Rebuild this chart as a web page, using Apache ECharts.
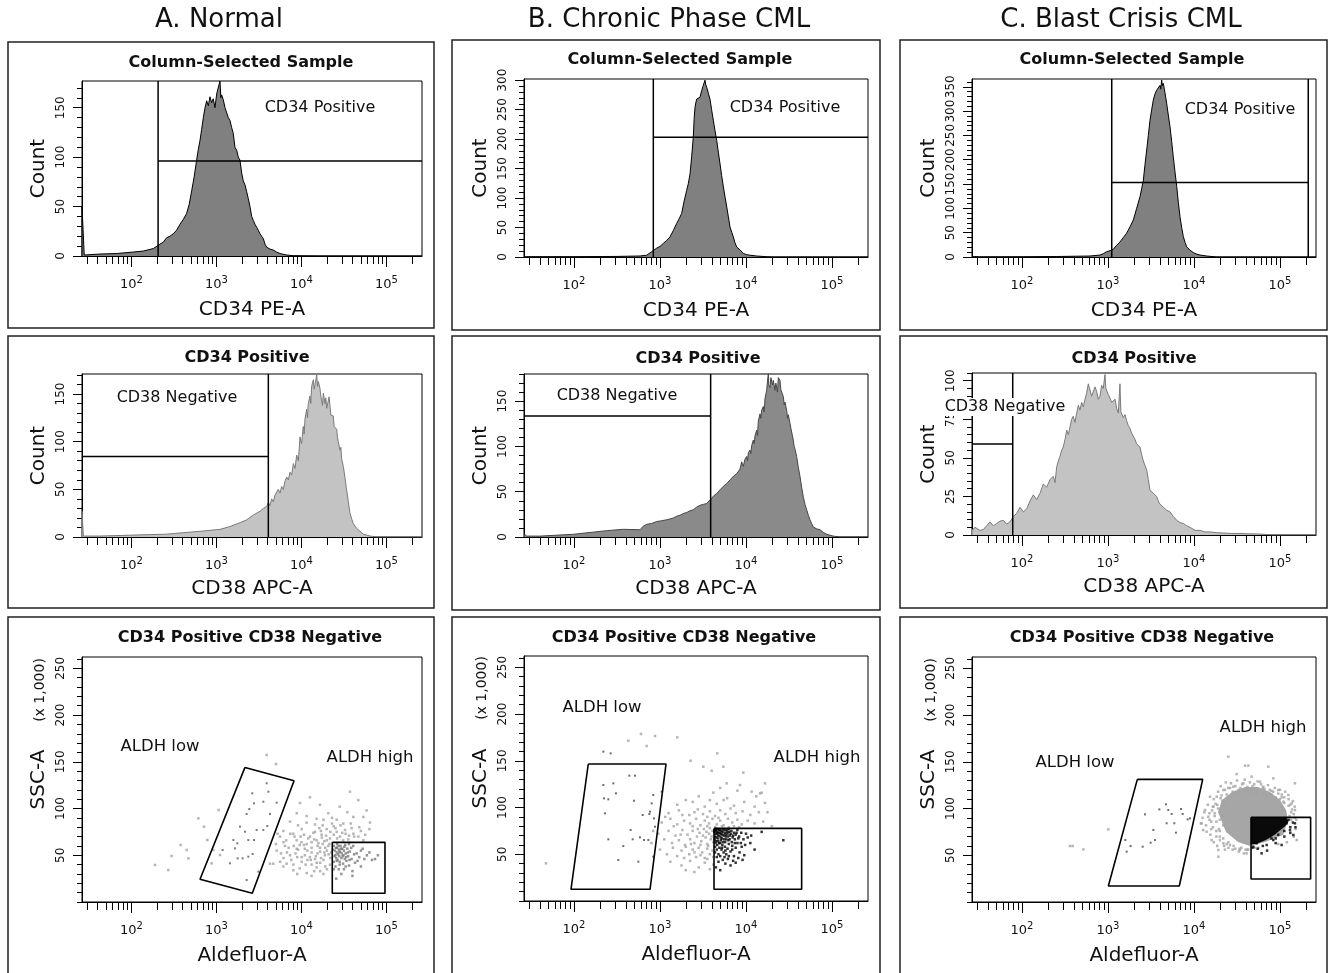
<!DOCTYPE html>
<html><head><meta charset="utf-8">
<script src="https://cdn.jsdelivr.net/npm/echarts@6/dist/echarts.min.js"></script>
<style>html,body{margin:0;padding:0;background:#fff}#c{width:1334px;height:973px}</style>
</head><body><div id="c"></div><script>
// ---------- DATA (x values are log10 of fluorescence, y are counts / SSC x1000) ----------
const columnTitles = ['A. Normal', 'B. Chronic Phase CML', 'C. Blast Crisis CML'];
const rowTitles = ['Column-Selected Sample', 'CD34 Positive', 'CD34 Positive CD38 Negative'];
const xAxisNames = ['CD34 PE-A', 'CD38 APC-A', 'Aldefluor-A'];
const xMajorTicks = [100, 1000, 10000, 100000];
const xMinorTicks = [30,40,50,60,70,80,90,200,300,400,500,600,700,800,900,2000,3000,4000,5000,6000,7000,8000,9000,20000,30000,40000,50000,60000,70000,80000,90000,200000];
const xRange = [26.2144, 262144];

const yMaxes = [177, 302, 366, 171, 180, 105, 262.144, 262.144, 262.144];
const yLabA1 = [0,50,100,150];
const yLabB1 = [0,50,100,150,200,250,300];
const yLabC1 = [0,50,100,150,200,250,300,350];
const yLabA2 = [0,50,100,150];
const yLabB2 = [0,50,100,150];
const yLabC2 = [0,25,50,75,100];
const yLabR3 = [50,100,150,200,250];

const histA1 = [[1.4186,0],[1.4187,50],[1.442,50],[1.445,1],[1.630,2],[1.827,2.5],[2.022,4],[2.140,5],[2.257,7.5],[2.336,12],[2.375,14],[2.415,18.5],[2.453,20],[2.492,22.5],[2.531,26],[2.571,32],[2.610,37],[2.649,43],[2.679,52],[2.709,66],[2.738,80],[2.767,97],[2.787,108],[2.807,117],[2.826,128],[2.846,140],[2.866,150],[2.885,157],[2.905,152],[2.924,161],[2.944,155],[2.963,159],[2.983,150],[3.003,164],[3.022,166],[3.042,177],[3.052,160],[3.061,163],[3.081,158],[3.101,150],[3.121,148],[3.140,140],[3.160,137],[3.179,130],[3.198,124],[3.218,110],[3.238,107],[3.257,100],[3.277,97],[3.297,84],[3.316,76],[3.336,72],[3.356,65],[3.375,58],[3.395,50],[3.415,40],[3.434,36],[3.454,32],[3.474,29],[3.493,26],[3.513,22.5],[3.532,20],[3.552,17.5],[3.571,12],[3.591,9],[3.630,7],[3.669,6],[3.708,4],[3.748,2.5],[3.826,1],[3.905,0.3],[4.2,0],[5.418,0]];
const histB1 = [[1.4186,0],[1.425,3],[1.440,3],[1.45,0.5],[2.0,0.5],[2.5,1],[2.767,1.7],[2.845,3],[2.903,9],[2.961,15],[3.000,18],[3.038,23],[3.077,28],[3.116,34],[3.155,45],[3.194,57],[3.223,65],[3.252,74],[3.281,95],[3.310,113],[3.330,125],[3.349,141],[3.368,170],[3.387,203],[3.397,235],[3.407,254],[3.417,262],[3.427,268],[3.446,265],[3.465,271],[3.484,282],[3.503,291],[3.513,288],[3.523,300],[3.533,292],[3.543,288],[3.562,278],[3.581,268],[3.600,250],[3.620,232],[3.640,214],[3.659,198],[3.678,178],[3.698,158],[3.717,138],[3.737,119],[3.756,102],[3.776,85],[3.795,68],[3.814,51],[3.834,42],[3.853,34],[3.872,24],[3.892,17],[3.911,14],[3.930,12],[3.950,9],[3.969,6],[4.008,4],[4.046,3],[4.124,1.7],[4.240,0.5],[4.317,0],[5.418,0]];
const histC1 = [[1.4186,0],[1.45,1],[1.5,0.3],[2.015,0.5],[2.403,1],[2.790,2],[2.907,4],[2.946,7],[2.985,11],[3.024,13],[3.062,16],[3.100,24],[3.139,31],[3.178,40],[3.217,49],[3.256,62],[3.294,76],[3.333,100],[3.372,124],[3.391,140],[3.411,158],[3.430,190],[3.450,220],[3.469,250],[3.488,281],[3.507,302],[3.527,323],[3.546,335],[3.566,343],[3.585,347],[3.605,353],[3.614,345],[3.624,364],[3.633,352],[3.643,357],[3.662,338],[3.682,316],[3.701,292],[3.721,268],[3.740,238],[3.759,206],[3.779,175],[3.799,145],[3.818,112],[3.837,83],[3.857,60],[3.876,42],[3.896,30],[3.915,21],[3.935,17],[3.954,14],[3.992,9],[4.031,6],[4.070,4],[4.148,2],[4.264,0],[5.418,0]];
const histA2 = [[1.4186,0],[1.4187,27],[1.430,27],[1.435,1],[1.630,1],[2.022,2],[2.218,2.5],[2.415,3],[2.610,4.5],[2.807,6],[2.924,7],[3.042,8],[3.160,11],[3.277,15],[3.356,18],[3.434,23],[3.513,27],[3.552,30],[3.591,32],[3.611,36],[3.630,33],[3.650,40],[3.669,37],[3.689,44],[3.709,42],[3.728,50],[3.748,46],[3.767,53],[3.787,50],[3.806,58],[3.826,63],[3.846,60],[3.866,68],[3.885,65],[3.905,77],[3.925,72],[3.944,86],[3.964,80],[3.983,105],[4.002,98],[4.022,116],[4.032,108],[4.042,124],[4.062,134],[4.071,125],[4.081,140],[4.101,148],[4.110,140],[4.120,158],[4.140,165],[4.150,155],[4.160,160],[4.180,170],[4.190,158],[4.199,163],[4.218,156],[4.228,148],[4.238,150],[4.248,138],[4.258,151],[4.277,140],[4.287,146],[4.297,135],[4.316,136],[4.326,147],[4.336,149],[4.346,128],[4.356,130],[4.375,127],[4.385,116],[4.395,118],[4.415,113],[4.425,104],[4.434,100],[4.454,91],[4.464,94],[4.473,82],[4.493,74],[4.503,76],[4.513,62],[4.532,49],[4.552,37],[4.571,25],[4.591,19],[4.611,14],[4.650,9],[4.689,6],[4.728,3],[4.807,1],[4.9,0],[5.38,0],[5.39,2],[5.40,0],[5.418,0]];
const histB2 = [[1.4186,0],[1.425,3],[1.440,3],[1.45,1],[1.605,1],[1.992,3],[2.186,5],[2.380,7],[2.573,8.5],[2.767,8],[2.806,12],[2.845,14],[2.903,15],[2.961,17],[3.020,18],[3.078,19],[3.117,20],[3.155,21],[3.194,23],[3.232,24],[3.271,26],[3.310,27],[3.349,29],[3.387,30],[3.426,33],[3.465,35],[3.504,36],[3.543,37],[3.572,40],[3.601,43],[3.630,46],[3.659,48],[3.697,52],[3.736,56],[3.775,59],[3.814,63],[3.853,67],[3.892,70],[3.930,75],[3.950,83],[3.969,78],[3.988,86],[4.008,89],[4.018,84],[4.027,93],[4.046,96],[4.056,92],[4.066,101],[4.085,107],[4.095,103],[4.105,112],[4.124,118],[4.134,112],[4.143,128],[4.163,136],[4.172,131],[4.182,140],[4.201,144],[4.211,138],[4.221,153],[4.240,162],[4.250,172],[4.260,182],[4.265,168],[4.270,170],[4.279,165],[4.289,176],[4.298,175],[4.308,168],[4.317,173],[4.337,162],[4.347,170],[4.357,169],[4.366,160],[4.376,176],[4.395,173],[4.405,163],[4.415,160],[4.434,155],[4.444,146],[4.453,149],[4.473,140],[4.483,131],[4.492,135],[4.512,133],[4.522,120],[4.531,118],[4.550,107],[4.560,100],[4.570,97],[4.589,89],[4.608,77],[4.628,67],[4.647,55],[4.667,44],[4.686,36],[4.706,30],[4.725,24],[4.744,19],[4.763,15],[4.783,11],[4.822,9],[4.861,8],[4.900,5],[4.939,3],[5.016,1],[5.093,0],[5.418,0]];
const histC2 = [[1.4186,0],[1.4187,3],[1.434,3],[1.453,5],[1.473,4],[1.511,3],[1.550,3.5],[1.589,6],[1.628,8.5],[1.667,6],[1.706,7.5],[1.745,9],[1.783,9.5],[1.822,7],[1.860,8.5],[1.899,12],[1.938,14],[1.977,18],[2.016,15],[2.055,17],[2.093,22],[2.131,26],[2.170,23],[2.209,27],[2.248,33],[2.287,31],[2.326,36],[2.364,38],[2.384,34],[2.403,44],[2.422,48],[2.442,51],[2.461,55],[2.480,57],[2.500,62],[2.520,68],[2.539,65],[2.558,70],[2.577,75],[2.596,77],[2.616,73],[2.636,79],[2.655,84],[2.674,81],[2.694,86],[2.713,83],[2.733,88],[2.752,92],[2.771,98],[2.790,99],[2.810,90],[2.829,90],[2.849,96],[2.868,93],[2.887,88],[2.907,90],[2.926,97],[2.945,95],[2.965,104],[2.975,95],[2.985,95],[3.004,91],[3.023,90],[3.043,86],[3.062,85],[3.082,88],[3.101,82],[3.120,79],[3.139,98],[3.149,80],[3.159,81],[3.178,76],[3.198,78],[3.217,74],[3.236,71],[3.256,69],[3.275,66],[3.294,66],[3.314,62],[3.333,59],[3.353,60],[3.372,57],[3.391,52],[3.411,48],[3.430,45],[3.450,42],[3.469,36],[3.488,29],[3.508,30],[3.527,27],[3.546,26],[3.566,25],[3.585,22],[3.604,20],[3.643,18],[3.682,16],[3.721,15],[3.760,12],[3.799,9.5],[3.838,8],[3.876,7.5],[3.915,6],[3.954,5],[4.012,3],[4.070,3],[4.128,2],[4.187,2],[4.264,1.5],[4.341,1.3],[4.438,1],[4.535,1],[4.632,0.8],[4.729,0.7],[4.826,0.4],[4.922,0],[5.418,0]];

// histogram gates: [x from, x to, count level]
const gateA1 = [206, 262144, 96];
const gateB1 = [836, 262144, 203];
const gateC1 = [1105, 213000, 153];
const gateA2 = [26.2144, 4080, 84.5];
const gateB2 = [26.2144, 3880, 133.5];
const gateC2 = [26.2144, 78, 59];

// scatter gates, [log10 x, SSC]
const lowGateA3 = [[3.336,144],[3.913,129.8],[3.422,9.3],[2.807,24.3],[3.336,144]];
const highGateA3 = [[4.363,63.8],[4.983,63.8],[4.983,9.3],[4.363,9.3],[4.363,63.8]];
const lowGateB3 = [[2.166,146.6],[3.070,146.6],[2.884,12.5],[1.965,12.5],[2.166,146.6]];
const highGateB3 = [[3.628,77.7],[4.647,77.7],[4.647,12.5],[3.628,12.5],[3.628,77.7]];
const lowGateC3 = [[3.341,131.2],[4.101,131.2],[3.829,17.1],[3.004,17.1],[3.341,131.2]];
const highGateC3 = [[4.663,90.6],[5.356,90.6],[5.356,24.6],[4.663,24.6],[4.663,90.6]];

const dotsA3Gray = [[2.277,39.6],[2.434,34.2],[2.473,49.2],[2.579,61],[2.650,55.6],[2.787,89.5],[2.854,80.6],[2.893,66.3],[2.670,46.7],[2.963,55.6],[3.026,98.4],[2.944,41.4],[3.042,50.3],[3.591,157.3],[3.701,147.6],
[3.983,106],[4.571,118],[4.669,109],[4.767,98],[4.218,104],[4.100,112],[4.450,102],
[3.866,86],[4.062,92],[4.179,89],[4.316,95],[4.415,88],[4.493,84],[4.611,91],[4.728,91],[4.807,85],[3.945,95],[4.250,82],[4.540,96],[4.380,81],
[3.748,70],[3.787,76],[3.905,73],[4.003,78],[4.101,70],[4.160,75],[4.179,66],[4.238,72],[4.297,78],[4.336,68],[4.415,75],[4.454,70],[4.513,77],[4.552,67],[4.611,73],[4.669,70],[4.728,66],[3.944,66],[4.030,72],[4.210,79],[4.380,72],[4.490,66],[4.590,79],[4.700,76],[4.270,65],[4.120,64],
[3.709,55],[3.807,60],[3.866,50],[3.944,57],[4.003,48],[4.062,62],[4.120,53],[4.160,46],[4.218,58],[4.277,50],[4.316,60],[4.340,47],[3.930,52],[4.040,57],[4.100,48],[4.190,52],[4.250,62],[4.300,55],[3.790,47],[3.850,58],[4.070,45],[4.230,47],[4.350,53],[3.980,61],
[3.669,41],[3.787,38],[3.905,34],[4.003,43],[4.062,31],[4.179,37],[4.258,30],[4.336,40],[3.826,41],[3.950,30],[4.120,40],[4.220,42],[4.300,35],[3.630,41],[3.905,40],[4.150,33],
[3.70,62],[3.76,52],[3.82,66],[3.88,45],[3.92,70],[3.96,56],[4.00,64],[4.04,50],[4.08,68],[4.12,58],[4.14,74],[4.17,49],[4.20,63],[4.22,54],[4.24,69],[4.26,45],[4.28,58],[4.30,66],[4.32,51],[4.34,75],[4.33,62],[4.29,71],[4.27,53],[4.23,76],[4.19,60],[4.15,67],[4.11,45],[4.07,55],[4.03,61],[3.99,70],[3.95,48],[3.91,60],[3.87,73],[3.83,53],[3.79,64],[3.75,43],[3.72,73],[4.36,84],[4.40,79],[4.46,82],[4.52,73],[4.58,84],[4.62,70],[4.68,80],[4.75,72],[4.80,78],[4.42,68],[4.48,74],[4.56,71],[4.36,90],[4.26,88],[4.16,83],[4.06,85],[3.96,82],[4.05,40],[4.18,42],[4.28,38],[3.98,36],[4.12,28],[4.22,33]];
const dotsA3Low = [[3.073,55.6],[3.159,41.4],[3.199,66.3],[3.246,62.8],[3.250,46.7],[3.277,80.6],[3.336,75.2],[3.375,48.5],[3.426,51.4],[3.356,94.2],[3.387,99.5],[3.422,116.3],[3.442,105.6],[3.552,107.3],[3.591,127],[3.611,118],[3.709,106.3],[3.473,77],[3.552,77],[3.375,66.3],[3.442,66.3],[3.356,23.5],[3.493,32.5],[3.218,57.4],[3.308,46.7],[3.599,81.3],[3.630,94.2]];
const dotsA3High = [[4.380,60],[4.395,55],[4.400,50],[4.410,47],[4.415,53],[4.420,58],[4.425,45],[4.430,51],[4.440,56],[4.445,49],[4.450,43],[4.455,54],[4.460,60],[4.470,47],[4.475,52],[4.480,57],[4.490,41],[4.495,50],[4.500,55],[4.510,46],[4.515,61],[4.520,52],[4.530,44],[4.540,57],[4.550,49],[4.560,39],[4.570,54],[4.590,46],[4.610,60],[4.630,42],[4.650,52],[4.680,48],[4.720,57],[4.770,50],[4.830,45],[4.866,46],[4.400,38],[4.440,35],[4.380,43],[4.500,35],[4.600,33],[4.470,30],[4.560,62],[4.700,38],[4.420,62],
[4.37,56],[4.39,49],[4.405,58],[4.415,44],[4.435,60],[4.445,53],[4.465,57],[4.485,49],[4.505,59],[4.525,48],[4.545,53],[4.565,45],[4.585,58],[4.62,51],[4.66,44],[4.70,55],[4.74,46],[4.80,53],[4.90,50],[4.45,40],[4.52,38],[4.38,35],[4.60,28],[4.41,25]];

const dotsB3Gray = [[1.674,40.3],[2.631,171.5],[2.779,178.7],[2.942,176.5],[2.845,165.8],[3.201,175.1],[3.356,150.1],[3.666,158],[3.969,137.3],[4.221,125.9],[4.182,115.9],[3.504,143.7],[3.601,139.4],[3.736,143.7],[3.775,125.9],[3.930,124.1],[4.066,117],[4.163,115.2],
[3.45,112],[3.62,116],[3.78,110],[3.90,118],[3.70,121],[3.30,108],
[3.20,103],[3.38,106],[3.52,101],[3.66,104],[3.74,108],[3.86,102],[3.98,106],[4.10,101],[3.58,108],
[3.10,94],[3.22,97],[3.34,92],[3.44,98],[3.50,93],[3.58,96],[3.64,91],[3.70,97],[3.76,93],[3.82,99],[3.88,94],[3.96,96],[4.05,92],[4.15,95],[3.40,95],[3.55,90],
[3.02,84],[3.12,88],[3.20,82],[3.28,86],[3.35,83],[3.42,88],[3.47,81],[3.52,86],[3.57,83],[3.61,88],[3.66,82],[3.70,86],[3.74,81],[3.79,88],[3.84,84],[3.90,87],[3.95,82],[4.02,86],[4.10,83],[3.38,80],[3.55,80],[3.68,89],[3.86,80],[3.64,79],[3.72,80],[3.80,79],[3.92,79],
[2.98,72],[3.05,66],[3.10,75],[3.14,62],[3.18,70],[3.22,65],[3.26,76],[3.29,60],[3.32,71],[3.35,66],[3.38,75],[3.40,62],[3.43,69],[3.46,73],[3.48,64],[3.51,77],[3.53,68],[3.55,61],[3.57,72],[3.59,66],[3.61,75],[3.62,63],[3.44,77],[3.36,61],[3.24,71],[3.50,70],[3.58,78],[3.47,60],[3.60,69],[3.54,74],
[3.00,55],[3.08,50],[3.15,57],[3.20,48],[3.25,54],[3.30,58],[3.34,50],[3.38,55],[3.42,47],[3.45,57],[3.49,52],[3.52,46],[3.55,56],[3.58,50],[3.61,54],[3.62,47],[3.40,52],[3.47,49],[3.56,59],[3.28,46],
[3.12,42],[3.25,38],[3.35,43],[3.45,36],[3.52,41],[3.58,34],[3.62,39],[3.40,31],[3.30,33],[3.55,45],
[2.90,62],[2.92,75],[4.20,85],[4.25,95],[4.30,80],[4.22,105],[4.12,112],[3.16,80],[3.06,90],[3.26,92]];
const dotsB3Low = [[2.341,124.1],[2.457,125.9],[2.488,115.2],[2.643,134.1],[2.709,134.1],[2.399,108.8],[2.698,107.3],[2.798,92],[2.876,93.1],[2.903,104.5],[2.922,113.4],[3.019,117],[2.399,66],[2.659,76],[2.767,68.1],[2.814,65.3],[2.573,58.8],[2.748,42.1],[2.515,43.9],[2.922,47.4],[2.942,79.5],[2.682,66],[2.349,109.8],[2.360,93.8],[2.884,95.6],[2.930,88.4],[2.864,65.3],[2.341,159.8],[2.426,158]];
const dotsB3High = [[3.635,76],[3.645,72],[3.655,77],[3.665,74],[3.675,70],[3.685,76],[3.695,73],[3.705,68],[3.715,75],[3.725,71],[3.735,77],[3.745,66],[3.755,73],[3.765,69],[3.775,76],[3.785,72],[3.795,65],[3.805,74],[3.815,70],[3.830,75],[3.845,68],[3.860,73],[3.880,71],[3.900,76],[3.920,69],[3.945,73],[3.970,66],[4.000,72],
[3.635,66],[3.645,62],[3.655,68],[3.665,60],[3.675,64],[3.690,57],[3.700,62],[3.715,55],[3.725,60],[3.740,52],[3.755,58],[3.770,50],[3.785,56],[3.800,61],[3.820,53],[3.840,59],[3.860,48],[3.880,57],[3.900,62],[3.925,52],[3.950,58],[3.980,49],
[3.640,52],[3.660,47],[3.680,42],[3.700,48],[3.730,44],[3.760,40],[3.790,45],[3.820,38],[3.850,43],[3.880,41],[3.910,46],[3.650,36],[3.700,33],[3.750,47],
[4.182,74],[4.434,65],[4.050,62],[4.100,55],[4.020,68],[3.960,44],
[3.632,74],[3.640,69],[3.648,75],[3.652,64],[3.660,72],[3.668,77],[3.672,67],[3.680,73],[3.688,62],[3.692,70],[3.700,76],[3.708,65],[3.712,72],[3.720,67],[3.728,74],[3.732,63],[3.740,70],[3.750,76],[3.758,63],[3.762,71],[3.770,66],[3.780,74],[3.790,69],[3.800,77],[3.810,66],[3.822,72],[3.835,63],[3.850,70],[3.870,66],[3.890,73],[3.640,58],[3.660,55],[3.680,50],[3.720,57],[3.760,54],[3.800,48],[3.840,55],[3.870,62],[3.910,67],[3.940,62],[3.990,60],[4.060,70]];

const dotsC3Gray = [[2.558,59.9],[2.589,59.9],[2.713,56.3],[3.004,77.7],
[4.399,155.5],[4.593,145.9],[4.632,145.9],[4.864,144.8],[4.496,136.9],[4.670,134.1],[4.767,128.7],[4.922,132.3],[5.174,127],[4.341,119.8],[4.457,123.4],[4.980,119.8],[5.097,114.5],[4.186,112.7],[4.128,98.4],[4.089,84.2],[4.147,75.2],[4.205,66.3],[4.283,55.6],[4.418,61],[4.535,55.6],[4.612,52.1],[4.341,62.8],[5.174,98.4],[5.194,66.3],[4.283,48.5],[4.166,91.3],[4.225,102],[4.264,112.7],[4.515,117],[4.806,123.4],[5.039,107.3],[5.136,105.6],[4.574,127],[4.108,77],[4.302,66.3],
[4.10,90],[4.14,82],[4.16,104],[4.19,72],[4.21,98],[4.23,110],[4.26,86],[4.28,118],[4.29,78],[4.31,124],[4.33,92],[4.34,68],[4.37,128],[4.40,64],[4.43,127],[4.46,60],[4.50,130],[4.53,57],[4.56,126],[4.59,131],[4.62,56],[4.65,128],[4.68,124],[4.71,58],[4.74,129],[4.78,126],[4.82,121],[4.86,125],[4.90,119],[4.94,122],[4.98,116],[5.02,112],[5.06,118],[5.10,110],[5.12,104],[5.14,99],[5.16,94],[5.17,102],[5.19,88],[5.13,88],[5.11,92],[4.24,95],[4.27,104],[4.30,88],[4.32,114],[4.36,120],[4.40,122],[4.48,124],[4.54,122],[4.62,123],[4.70,126],[4.80,122],[4.92,118],[5.00,120],[5.05,112],[4.30,70],[4.38,62],[4.45,56],[4.52,54],[4.60,56],[4.20,78],[4.18,88],[4.22,102],[4.12,96],[4.08,84],[4.26,76],[4.35,104],[4.34,82],
[4.22,80],[4.24,92],[4.26,70],[4.28,100],[4.30,76],[4.33,108],[4.35,60],[4.38,115],[4.40,58],[4.45,118],[4.48,57],[4.52,120],[4.55,58],[4.60,119],[4.63,56],[4.66,118],[4.72,117],[4.75,58],[4.80,116],[4.85,113],[4.90,115],[4.95,112],[5.00,110],[5.05,106],[5.10,103],[5.13,96],[5.17,90],[5.18,78],[5.16,70],[5.08,64],[4.98,62],[4.20,86],[4.18,95],[4.25,105],[4.31,111],[4.42,122],[4.70,122],[4.88,120],[5.02,115],[5.15,108],[4.23,64],[4.27,60],[4.36,56],[4.58,52]];
const dotsC3Low = [[3.430,93.8],[3.527,77],[3.546,66.3],[3.597,99.1],[3.674,104.5],[3.740,94.2],[3.771,84.2],[3.849,99.5],[3.868,94.2],[3.926,88.4],[3.953,89.5],[3.403,59.2],[3.263,59.9],[3.201,66.3],[3.496,63.5],[3.682,84.2],[3.790,74.2],[3.217,53.9],[3.701,98.4]];
const coreC3Gray = [[4.279,96.3],[4.325,109.1],[4.442,117.7],[4.593,123],[4.744,123],[4.884,117.7],[5.000,109.1],[5.070,98.4],[5.093,87.7],[5.035,71.7],[4.826,64.2],[4.651,59.9],[4.512,64.2],[4.372,74.9]];
const coreC3Black = [[4.663,90.6],[5.070,90.6],[5.100,86],[5.060,81],[4.990,76],[4.940,72],[4.830,66],[4.740,62.5],[4.663,61.5]];
const dotsC3High = [[4.728,62.8],[4.786,52.1],[5.077,84.2],[5.174,84.2],[5.155,71.7],[4.922,66.3],[5.116,77],[4.845,61],[4.690,59.2],[5.019,61],[4.70,63.5],[4.95,68],[5.05,70],[5.12,80],
[5.10,88],[5.15,85],[5.18,80],[5.05,76],[4.98,72],[4.90,68],[4.80,60],[4.74,57],[4.68,58],[4.85,55],[5.12,74],[4.95,63]];

// ---------- LAYOUT ----------
const FONT = 'DejaVu Sans';
const INK = '#111';
const colLeft = [82, 524, 972], colWidth = [340, 344, 344];
const rowTop = [[81,79,79],[374,374,373],[657,656,657]];
const rowH = [[175,178,178],[163,163,162],[245,245,245]];
const yLabels = [yLabA1,yLabB1,yLabC1,yLabA2,yLabB2,yLabC2,yLabR3,yLabR3,yLabR3];
const yMinorStep = [10,10,10,10,10,5,10,10,10];

const pow10 = e => Math.pow(10, e);
function range(step, max){ const r=[]; for(let v=0; v<=max+1e-9; v+=step) r.push(+v.toFixed(3)); return r; }

const grids=[], xAxes=[], yAxes=[], series=[];
for (let r=0;r<3;r++) for (let c=0;c<3;c++){
  const i=r*3+c;
  grids[i] = {left:colLeft[c], top:rowTop[r][c], width:colWidth[c], height:rowH[r][c], show:true, borderColor:'#000', borderWidth:1, backgroundColor:'transparent', outerBoundsMode:'none', containLabel:false};
  grids[9+i] = {left:colLeft[c], top:rowTop[r][c], width:colWidth[c], height:rowH[r][c], show:false, outerBoundsMode:'none', containLabel:false};
  xAxes[i] = {type:'log', logBase:10, gridIndex:i, min:xRange[0], max:xRange[1],
    axisLine:{show:true, onZero:false, lineStyle:{color:'#000', width:1}},
    axisTick:{show:true, customValues:xMinorTicks.concat(xMajorTicks), length:8, lineStyle:{color:'#000', width:1}},
    axisLabel:{show:true, customValues:xMajorTicks, margin:19, color:INK, fontFamily:FONT,
      formatter: v => '{n|10}{e|' + Math.round(Math.log10(v)) + '}',
      rich:{n:{fontSize:13, fontFamily:FONT, color:INK}, e:{fontSize:10, fontFamily:FONT, color:INK, padding:[0,0,9,0]}}},
    splitLine:{show:false},
    name:xAxisNames[r], nameLocation:'middle', nameGap: r===1 ? 42 : 44, nameTextStyle:{fontSize:20, fontFamily:FONT, color:INK}};
  xAxes[9+i] = {type:'log', logBase:10, gridIndex:9+i, min:xRange[0], max:xRange[1],
    axisLine:{show:false}, axisTick:{show:true, customValues:xMajorTicks, length:11, lineStyle:{color:'#000', width:1}},
    axisLabel:{show:false}, splitLine:{show:false}};
  const yMinor = range(yMinorStep[i], yMaxes[i]);
  yAxes[i] = {type:'value', gridIndex:i, min:0, max:yMaxes[i],
    axisLine:{show:true, onZero:false, lineStyle:{color:'#000', width:1}},
    axisTick:{show:true, customValues:yMinor, length:5, lineStyle:{color:'#000', width:1}},
    axisLabel:{show:true, customValues:yLabels[i], rotate:90, margin:15, fontSize:12, fontFamily:FONT, color:INK},
    splitLine:{show:false},
    name: r<2 ? 'Count' : 'SSC-A', nameLocation:'middle', nameGap:33, nameTextStyle:{fontSize:20, fontFamily:FONT, color:INK}};
  yAxes[9+i] = {type:'value', gridIndex:9+i, min:0, max:yMaxes[i],
    axisLine:{show:false}, axisTick:{show:true, customValues:yLabels[i], length:9, lineStyle:{color:'#000', width:1}},
    axisLabel:{show:false}, splitLine:{show:false}};
}

function hist(i, pairs, line, fill){
  series.push({type:'line', xAxisIndex:i, yAxisIndex:i, data:pairs.map(p=>[pow10(p[0]), p[1]]), symbol:'none', showSymbol:false,
    lineStyle:{color:line, width:1}, areaStyle:{color:fill, opacity:1}, z:2, silent:true, animation:false});
}
function seg(i, pts, w){
  series.push({type:'line', xAxisIndex:i, yAxisIndex:i, data:pts, symbol:'none', showSymbol:false,
    lineStyle:{color:'#000', width:w||1.5}, z:5, silent:true, animation:false});
}
function histGate(i, g, leftSide){
  const top = yMaxes[i];
  if (leftSide){ seg(i, [[g[1],0],[g[1],top]]); seg(i, [[g[0],g[2]],[g[1],g[2]]]); }
  else { seg(i, [[g[0],0],[g[0],top]]); seg(i, [[g[0],g[2]],[g[1],g[2]]]); if (g[1] < xRange[1]) seg(i, [[g[1],0],[g[1],top]]); }
}
function polyLine(i, pts){ seg(i, pts.map(p=>[pow10(p[0]), p[1]]), 1.6); }
function dots(i, pts, color, size){
  series.push({type:'scatter', xAxisIndex:i, yAxisIndex:i, data:pts.map(p=>[pow10(p[0]), p[1]]), symbol:'rect', symbolSize:size||2,
    itemStyle:{color:color}, z:3, silent:true, animation:false});
}
function blob(i, poly, color){
  series.push({type:'custom', xAxisIndex:i, yAxisIndex:i, data:[[pow10(poly[0][0]), poly[0][1]]], z:3, silent:true, animation:false,
    renderItem:(params, api) => ({type:'polygon', shape:{points: poly.map(p=>api.coord([pow10(p[0]), p[1]]))}, style:{fill:color}})});
}

const DARK_FILL='#808080', LIGHT_FILL='#c3c3c3';
hist(0, histA1, '#000', DARK_FILL); histGate(0, gateA1);
hist(1, histB1, '#000', DARK_FILL); histGate(1, gateB1);
hist(2, histC1, '#000', DARK_FILL); histGate(2, gateC1);
hist(3, histA2, '#7a7a7a', LIGHT_FILL); histGate(3, gateA2, true);
hist(4, histB2, '#474747', '#8a8a8a'); histGate(4, gateB2, true);
hist(5, histC2, '#7a7a7a', LIGHT_FILL); histGate(5, gateC2, true);

dots(6, dotsA3Gray, '#a3a3a3', 2.5); dots(6, dotsA3Low, '#5a5a5a', 2); dots(6, dotsA3High, '#7a7a7a', 2.5);
polyLine(6, lowGateA3); polyLine(6, highGateA3);
dots(7, dotsB3Gray, '#a3a3a3', 2.5); dots(7, dotsB3Low, '#4a4a4a', 2); dots(7, dotsB3High, '#000', 2.5);
polyLine(7, lowGateB3); polyLine(7, highGateB3);
dots(8, dotsC3Gray, '#a3a3a3', 2.5); blob(8, coreC3Gray, '#a6a6a6'); dots(8, dotsC3Low, '#4a4a4a', 2);
blob(8, coreC3Black, '#0a0a0a'); dots(8, dotsC3High, '#000', 2.5);
polyLine(8, lowGateC3); polyLine(8, highGateC3);

// ---------- TEXT & FRAMES ----------
const G = [];
function txt(x, y, s, size, weight, extra){
  G.push(Object.assign({type:'text', x:x, y:y, z:100, silent:true,
    style:{text:s, fill:INK, font: (weight||'normal') + ' ' + size + 'px "' + FONT + '"', textAlign:'center', textVerticalAlign:'middle'}}, extra||{}));
}
function box(x, y, w, h){ G.push({type:'rect', z:100, silent:true, shape:{x:x, y:y, width:w, height:h}, style:{fill:'none', stroke:'#222', lineWidth:1.5}}); }
const boxX = [[8,426],[452,428],[900,427]];
const boxY = [[[42,286],[40,290],[40,290]], [[336,272],[336,274],[336,272]], [[617,380],[617,380],[617,380]]];
for (let r=0;r<3;r++) for (let c=0;c<3;c++) box(boxX[c][0], boxY[r][c][0], boxX[c][1], boxY[r][c][1]);

txt(219, 20, columnTitles[0], 26); txt(669, 20, columnTitles[1], 26); txt(1121, 20, columnTitles[2], 26);
const titlePos = [[[241,63],[680,60],[1132,60]], [[247,358],[698,359],[1134,359]], [[250,638],[684,638],[1142,638]]];
for (let r=0;r<3;r++) for (let c=0;c<3;c++) txt(titlePos[r][c][0], titlePos[r][c][1], rowTitles[r], 16, 'bold');
txt(320,108,'CD34 Positive',16); txt(785,108,'CD34 Positive',16); txt(1240,110,'CD34 Positive',16);
txt(177,398,'CD38 Negative',16); txt(617,396,'CD38 Negative',16);
G.push({type:'text', x:1005, y:407, z:100, silent:true, style:{text:'CD38 Negative', fill:INK, font:'normal 16px "DejaVu Sans"', textAlign:'center', textVerticalAlign:'middle', backgroundColor:'#fff', padding:[1,0,1,0]}});
txt(160,747,'ALDH low',16.5); txt(370,758,'ALDH high',16.5);
txt(602,708,'ALDH low',16.5); txt(817,758,'ALDH high',16.5);
txt(1075,763,'ALDH low',16.5); txt(1263,728,'ALDH high',16.5);
txt(40,690,'(x 1,000)',14,'normal',{rotation:Math.PI/2}); txt(482,688,'(x 1,000)',14,'normal',{rotation:Math.PI/2}); txt(931,690,'(x 1,000)',14,'normal',{rotation:Math.PI/2});

const chart = echarts.init(document.getElementById('c'), null, {renderer:'canvas', devicePixelRatio:1});
chart.setOption({backgroundColor:'#fff', animation:false, grid:grids, xAxis:xAxes, yAxis:yAxes, series:series, graphic:{elements:G}});
</script></body></html>
